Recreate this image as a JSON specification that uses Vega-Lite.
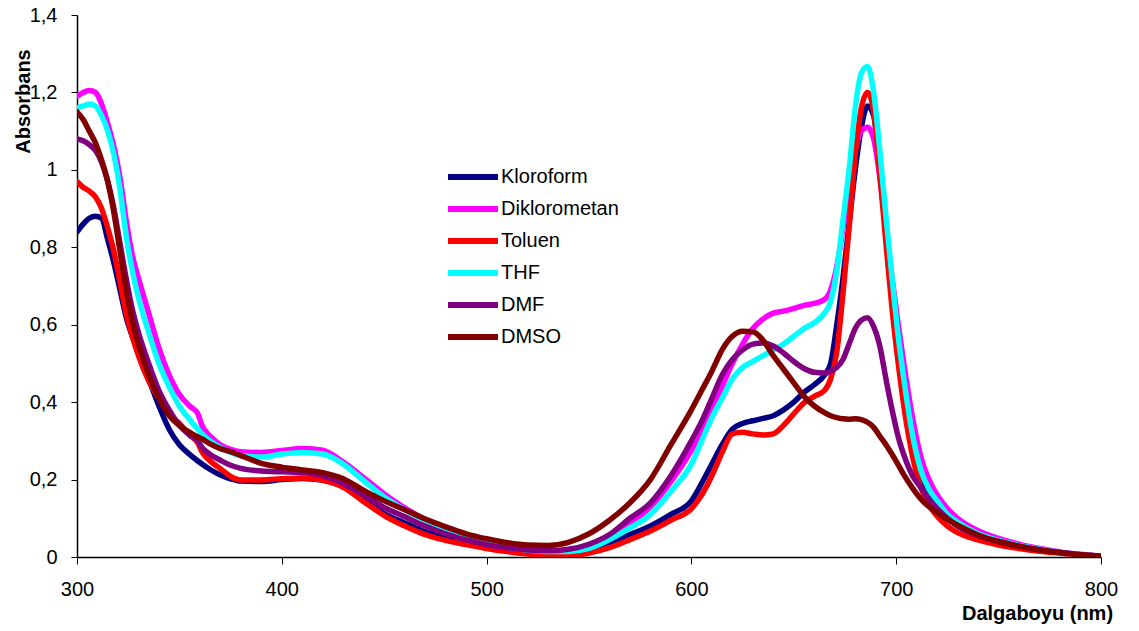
{
 "$schema": "https://vega.github.io/schema/vega-lite/v6.json",
 "width": 1024,
 "height": 542,
 "autosize": "none",
 "padding": {"left": 77, "top": 15, "right": 38, "bottom": 74},
 "background": "white",
 "config": {"view": {"stroke": null}, "font": "Liberation Sans"},
 "data": {"values": [
  {"nm":300,"Kloroform":0.84,"Diklorometan":1.19,"Toluen":0.97,"THF":1.16,"DMF":1.08,"DMSO":1.15},
  {"nm":303,"Kloroform":0.86,"Diklorometan":1.2,"Toluen":0.955,"THF":1.165,"DMF":1.075,"DMSO":1.13},
  {"nm":306,"Kloroform":0.875,"Diklorometan":1.205,"Toluen":0.945,"THF":1.17,"DMF":1.065,"DMSO":1.1},
  {"nm":309,"Kloroform":0.88,"Diklorometan":1.2,"Toluen":0.93,"THF":1.165,"DMF":1.05,"DMSO":1.07},
  {"nm":312,"Kloroform":0.875,"Diklorometan":1.17,"Toluen":0.9,"THF":1.14,"DMF":1.02,"DMSO":1.025},
  {"nm":315,"Kloroform":0.82,"Diklorometan":1.12,"Toluen":0.85,"THF":1.1,"DMF":0.97,"DMSO":0.97},
  {"nm":318,"Kloroform":0.76,"Diklorometan":1.06,"Toluen":0.79,"THF":1.04,"DMF":0.9,"DMSO":0.89},
  {"nm":321,"Kloroform":0.69,"Diklorometan":0.98,"Toluen":0.71,"THF":0.95,"DMF":0.81,"DMSO":0.79},
  {"nm":324,"Kloroform":0.62,"Diklorometan":0.87,"Toluen":0.63,"THF":0.83,"DMF":0.72,"DMSO":0.69},
  {"nm":327,"Kloroform":0.57,"Diklorometan":0.78,"Toluen":0.57,"THF":0.74,"DMF":0.64,"DMSO":0.61},
  {"nm":330,"Kloroform":0.53,"Diklorometan":0.72,"Toluen":0.52,"THF":0.67,"DMF":0.58,"DMSO":0.55},
  {"nm":335,"Kloroform":0.46,"Diklorometan":0.63,"Toluen":0.455,"THF":0.58,"DMF":0.5,"DMSO":0.47},
  {"nm":340,"Kloroform":0.39,"Diklorometan":0.54,"Toluen":0.41,"THF":0.5,"DMF":0.43,"DMSO":0.41},
  {"nm":345,"Kloroform":0.33,"Diklorometan":0.47,"Toluen":0.37,"THF":0.44,"DMF":0.38,"DMSO":0.365},
  {"nm":350,"Kloroform":0.29,"Diklorometan":0.42,"Toluen":0.345,"THF":0.39,"DMF":0.34,"DMSO":0.34},
  {"nm":355,"Kloroform":0.265,"Diklorometan":0.39,"Toluen":0.315,"THF":0.355,"DMF":0.315,"DMSO":0.322},
  {"nm":359,"Kloroform":0.248,"Diklorometan":0.37,"Toluen":0.295,"THF":0.33,"DMF":0.3,"DMSO":0.31},
  {"nm":361,"Kloroform":0.24,"Diklorometan":0.34,"Toluen":0.272,"THF":0.318,"DMF":0.283,"DMSO":0.305},
  {"nm":365,"Kloroform":0.226,"Diklorometan":0.312,"Toluen":0.248,"THF":0.3,"DMF":0.265,"DMSO":0.292},
  {"nm":370,"Kloroform":0.212,"Diklorometan":0.29,"Toluen":0.228,"THF":0.283,"DMF":0.25,"DMSO":0.28},
  {"nm":375,"Kloroform":0.202,"Diklorometan":0.278,"Toluen":0.208,"THF":0.27,"DMF":0.237,"DMSO":0.272},
  {"nm":380,"Kloroform":0.196,"Diklorometan":0.272,"Toluen":0.199,"THF":0.262,"DMF":0.229,"DMSO":0.262},
  {"nm":390,"Kloroform":0.195,"Diklorometan":0.27,"Toluen":0.199,"THF":0.258,"DMF":0.222,"DMSO":0.242},
  {"nm":400,"Kloroform":0.2,"Diklorometan":0.275,"Toluen":0.202,"THF":0.266,"DMF":0.22,"DMSO":0.232},
  {"nm":410,"Kloroform":0.203,"Diklorometan":0.28,"Toluen":0.204,"THF":0.27,"DMF":0.218,"DMSO":0.225},
  {"nm":420,"Kloroform":0.199,"Diklorometan":0.276,"Toluen":0.198,"THF":0.266,"DMF":0.21,"DMSO":0.218},
  {"nm":430,"Kloroform":0.182,"Diklorometan":0.245,"Toluen":0.18,"THF":0.24,"DMF":0.19,"DMSO":0.202},
  {"nm":440,"Kloroform":0.15,"Diklorometan":0.205,"Toluen":0.143,"THF":0.197,"DMF":0.16,"DMSO":0.172},
  {"nm":450,"Kloroform":0.112,"Diklorometan":0.163,"Toluen":0.107,"THF":0.155,"DMF":0.128,"DMSO":0.145},
  {"nm":460,"Kloroform":0.088,"Diklorometan":0.127,"Toluen":0.08,"THF":0.122,"DMF":0.104,"DMSO":0.122},
  {"nm":470,"Kloroform":0.065,"Diklorometan":0.097,"Toluen":0.058,"THF":0.095,"DMF":0.08,"DMSO":0.098},
  {"nm":480,"Kloroform":0.05,"Diklorometan":0.072,"Toluen":0.043,"THF":0.071,"DMF":0.06,"DMSO":0.078},
  {"nm":490,"Kloroform":0.038,"Diklorometan":0.052,"Toluen":0.032,"THF":0.051,"DMF":0.044,"DMSO":0.06},
  {"nm":500,"Kloroform":0.028,"Diklorometan":0.037,"Toluen":0.022,"THF":0.036,"DMF":0.032,"DMSO":0.047},
  {"nm":510,"Kloroform":0.02,"Diklorometan":0.026,"Toluen":0.014,"THF":0.025,"DMF":0.024,"DMSO":0.037},
  {"nm":520,"Kloroform":0.015,"Diklorometan":0.019,"Toluen":0.008,"THF":0.018,"DMF":0.018,"DMSO":0.031},
  {"nm":530,"Kloroform":0.011,"Diklorometan":0.015,"Toluen":0.004,"THF":0.014,"DMF":0.016,"DMSO":0.03},
  {"nm":540,"Kloroform":0.013,"Diklorometan":0.016,"Toluen":0.004,"THF":0.014,"DMF":0.02,"DMSO":0.038},
  {"nm":550,"Kloroform":0.022,"Diklorometan":0.024,"Toluen":0.01,"THF":0.022,"DMF":0.033,"DMSO":0.06},
  {"nm":560,"Kloroform":0.038,"Diklorometan":0.048,"Toluen":0.024,"THF":0.045,"DMF":0.058,"DMSO":0.095},
  {"nm":570,"Kloroform":0.058,"Diklorometan":0.085,"Toluen":0.045,"THF":0.075,"DMF":0.1,"DMSO":0.14},
  {"nm":580,"Kloroform":0.08,"Diklorometan":0.13,"Toluen":0.067,"THF":0.11,"DMF":0.14,"DMSO":0.2},
  {"nm":590,"Kloroform":0.11,"Diklorometan":0.195,"Toluen":0.095,"THF":0.17,"DMF":0.21,"DMSO":0.29},
  {"nm":600,"Kloroform":0.145,"Diklorometan":0.275,"Toluen":0.125,"THF":0.24,"DMF":0.3,"DMSO":0.38},
  {"nm":605,"Kloroform":0.19,"Diklorometan":0.32,"Toluen":0.16,"THF":0.3,"DMF":0.35,"DMSO":0.43},
  {"nm":610,"Kloroform":0.24,"Diklorometan":0.38,"Toluen":0.21,"THF":0.36,"DMF":0.41,"DMSO":0.48},
  {"nm":615,"Kloroform":0.29,"Diklorometan":0.44,"Toluen":0.27,"THF":0.41,"DMF":0.47,"DMSO":0.535},
  {"nm":620,"Kloroform":0.33,"Diklorometan":0.5,"Toluen":0.318,"THF":0.46,"DMF":0.51,"DMSO":0.57},
  {"nm":625,"Kloroform":0.345,"Diklorometan":0.55,"Toluen":0.322,"THF":0.49,"DMF":0.535,"DMSO":0.583},
  {"nm":630,"Kloroform":0.352,"Diklorometan":0.59,"Toluen":0.318,"THF":0.505,"DMF":0.55,"DMSO":0.582},
  {"nm":635,"Kloroform":0.358,"Diklorometan":0.615,"Toluen":0.315,"THF":0.52,"DMF":0.553,"DMSO":0.56},
  {"nm":640,"Kloroform":0.365,"Diklorometan":0.63,"Toluen":0.318,"THF":0.535,"DMF":0.545,"DMSO":0.52},
  {"nm":645,"Kloroform":0.38,"Diklorometan":0.635,"Toluen":0.34,"THF":0.55,"DMF":0.527,"DMSO":0.485},
  {"nm":650,"Kloroform":0.4,"Diklorometan":0.642,"Toluen":0.37,"THF":0.57,"DMF":0.505,"DMSO":0.45},
  {"nm":655,"Kloroform":0.425,"Diklorometan":0.65,"Toluen":0.398,"THF":0.59,"DMF":0.487,"DMSO":0.415},
  {"nm":660,"Kloroform":0.445,"Diklorometan":0.655,"Toluen":0.415,"THF":0.605,"DMF":0.477,"DMSO":0.39},
  {"nm":665,"Kloroform":0.47,"Diklorometan":0.665,"Toluen":0.43,"THF":0.63,"DMF":0.475,"DMSO":0.373},
  {"nm":668,"Kloroform":0.5,"Diklorometan":0.69,"Toluen":0.46,"THF":0.66,"DMF":0.48,"DMSO":0.365},
  {"nm":671,"Kloroform":0.6,"Diklorometan":0.75,"Toluen":0.53,"THF":0.74,"DMF":0.49,"DMSO":0.36},
  {"nm":674,"Kloroform":0.72,"Diklorometan":0.85,"Toluen":0.68,"THF":0.87,"DMF":0.51,"DMSO":0.357},
  {"nm":677,"Kloroform":0.86,"Diklorometan":0.96,"Toluen":0.85,"THF":1.0,"DMF":0.55,"DMSO":0.356},
  {"nm":680,"Kloroform":1.0,"Diklorometan":1.05,"Toluen":1.04,"THF":1.16,"DMF":0.59,"DMSO":0.357},
  {"nm":683,"Kloroform":1.11,"Diklorometan":1.1,"Toluen":1.16,"THF":1.25,"DMF":0.612,"DMSO":0.355},
  {"nm":686,"Kloroform":1.165,"Diklorometan":1.11,"Toluen":1.2,"THF":1.267,"DMF":0.618,"DMSO":0.348},
  {"nm":689,"Kloroform":1.14,"Diklorometan":1.08,"Toluen":1.15,"THF":1.2,"DMF":0.595,"DMSO":0.335},
  {"nm":692,"Kloroform":1.0,"Diklorometan":0.98,"Toluen":0.99,"THF":1.05,"DMF":0.545,"DMSO":0.312},
  {"nm":695,"Kloroform":0.84,"Diklorometan":0.85,"Toluen":0.81,"THF":0.88,"DMF":0.46,"DMSO":0.29},
  {"nm":698,"Kloroform":0.68,"Diklorometan":0.72,"Toluen":0.64,"THF":0.72,"DMF":0.38,"DMSO":0.265},
  {"nm":701,"Kloroform":0.54,"Diklorometan":0.6,"Toluen":0.5,"THF":0.57,"DMF":0.31,"DMSO":0.238},
  {"nm":704,"Kloroform":0.42,"Diklorometan":0.49,"Toluen":0.38,"THF":0.45,"DMF":0.26,"DMSO":0.21},
  {"nm":708,"Kloroform":0.29,"Diklorometan":0.36,"Toluen":0.26,"THF":0.315,"DMF":0.21,"DMSO":0.178},
  {"nm":712,"Kloroform":0.21,"Diklorometan":0.26,"Toluen":0.18,"THF":0.225,"DMF":0.18,"DMSO":0.15},
  {"nm":716,"Kloroform":0.16,"Diklorometan":0.2,"Toluen":0.135,"THF":0.175,"DMF":0.15,"DMSO":0.13},
  {"nm":720,"Kloroform":0.128,"Diklorometan":0.16,"Toluen":0.105,"THF":0.145,"DMF":0.125,"DMSO":0.115},
  {"nm":725,"Kloroform":0.1,"Diklorometan":0.125,"Toluen":0.08,"THF":0.11,"DMF":0.1,"DMSO":0.097},
  {"nm":730,"Kloroform":0.08,"Diklorometan":0.1,"Toluen":0.063,"THF":0.09,"DMF":0.08,"DMSO":0.082},
  {"nm":740,"Kloroform":0.055,"Diklorometan":0.068,"Toluen":0.044,"THF":0.06,"DMF":0.055,"DMSO":0.057},
  {"nm":750,"Kloroform":0.039,"Diklorometan":0.048,"Toluen":0.031,"THF":0.043,"DMF":0.04,"DMSO":0.04},
  {"nm":760,"Kloroform":0.027,"Diklorometan":0.033,"Toluen":0.022,"THF":0.03,"DMF":0.028,"DMSO":0.028},
  {"nm":770,"Kloroform":0.019,"Diklorometan":0.022,"Toluen":0.015,"THF":0.02,"DMF":0.019,"DMSO":0.018},
  {"nm":780,"Kloroform":0.012,"Diklorometan":0.013,"Toluen":0.01,"THF":0.012,"DMF":0.012,"DMSO":0.011},
  {"nm":790,"Kloroform":0.006,"Diklorometan":0.007,"Toluen":0.005,"THF":0.006,"DMF":0.006,"DMSO":0.006},
  {"nm":800,"Kloroform":0.002,"Diklorometan":0.002,"Toluen":0.001,"THF":0.002,"DMF":0.002,"DMSO":0.002}
 ]},
 "transform": [{"fold": ["Kloroform","Diklorometan","Toluen","THF","DMF","DMSO"], "as": ["solvent","A"]}],
 "mark": {"type": "line", "strokeWidth": 5.5, "interpolate": "monotone", "strokeCap": "round", "strokeJoin": "round", "clip": true},
 "encoding": {
  "x": {"field": "nm", "type": "quantitative",
   "scale": {"domain": [300, 800], "nice": false, "zero": false},
   "axis": {"values": [300,400,500,600,700,800], "grid": false, "domainColor": "black", "domainWidth": 1.5, "tickColor": "black", "tickSize": 7, "labelFontSize": 20, "labelColor": "black", "labelPadding": 15, "labelFlush": false,
    "title": "Dalgaboyu (nm)", "titleFontSize": 20, "titleFontWeight": "bold", "titleColor": "black", "titleX": 960, "titleY": 62, "titleAlign": "center", "titleBaseline": "alphabetic"}},
  "y": {"field": "A", "type": "quantitative",
   "scale": {"domain": [0, 1.4], "nice": false},
   "axis": {"values": [0,0.2,0.4,0.6,0.8,1,1.2,1.4], "labelExpr": "replace(format(datum.value,'.1~f'),'.',',')", "grid": false, "domainColor": "black", "domainWidth": 1.5, "tickColor": "black", "tickSize": 6, "labelFontSize": 20, "labelColor": "black", "labelPadding": 14,
    "title": "Absorbans", "titleFontSize": 20, "titleFontWeight": "bold", "titleColor": "black", "titleX": -48, "titleY": 86, "titleAngle": -90, "titleAlign": "center", "titleBaseline": "alphabetic"}},
  "color": {"field": "solvent", "type": "nominal",
   "scale": {"domain": ["Kloroform","Diklorometan","Toluen","THF","DMF","DMSO"], "range": ["#000080","#FF00FF","#FF0000","#00FFFF","#800080","#800000"]},
   "legend": {"title": null, "orient": "none", "legendX": 368, "legendY": 146, "symbolType": "stroke", "symbolSize": 2500, "symbolStrokeWidth": 6, "labelFontSize": 20, "labelColor": "black", "labelOffset": 0, "rowPadding": 0, "clipHeight": 32, "padding": 0}}
 }
}
